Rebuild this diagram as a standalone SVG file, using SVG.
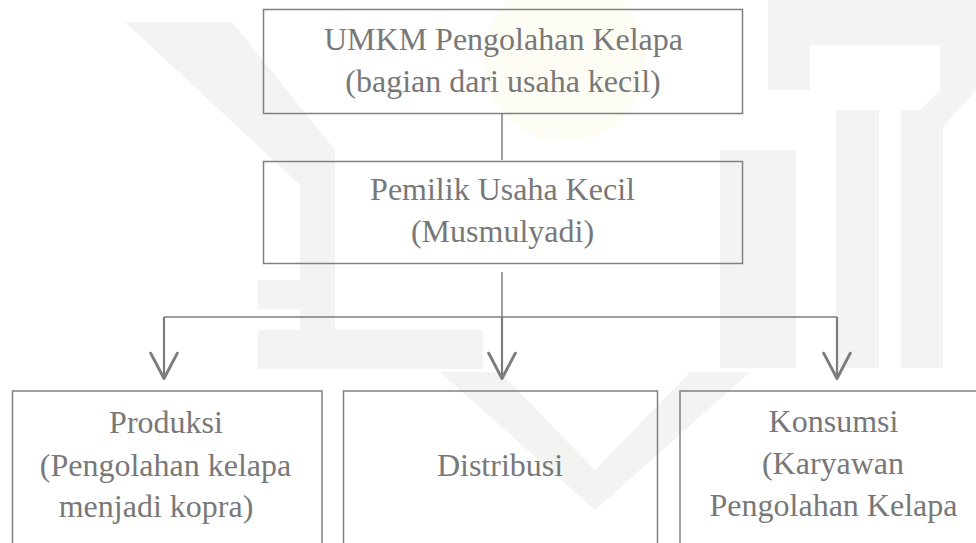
<svg xmlns="http://www.w3.org/2000/svg" width="976" height="543" viewBox="0 0 976 543">
<defs>
<style>
.box{fill:none;stroke:#808080;stroke-width:1.5}
.t{font-size:32px;fill:#787878;text-anchor:middle}
.ln{fill:none;stroke:#7c7c7c;stroke-width:1.5}
.ar{fill:none;stroke:#7c7c7c;stroke-width:2.2}
</style>
<marker id="arr" markerUnits="userSpaceOnUse" orient="auto" refX="0" refY="0" markerWidth="40" markerHeight="40" viewBox="-25 -15 30 30" overflow="visible">
<path d="M-19,-10 L0,0 L-19,10" fill="none" stroke="#7c7c7c" stroke-width="2.2" stroke-linejoin="round" stroke-linecap="round"/>
</marker>
</defs>
<rect width="976" height="543" fill="#ffffff"/>
<g id="watermark">
<circle cx="565" cy="60" r="82" fill="#fefdf5"/>
<g fill="#f3f3f2">
<polygon points="125,22 232,22 335,150 335,330 300,330 300,185"/>
<rect x="258" y="280" width="75" height="29"/>
<rect x="258" y="330" width="225" height="39"/>
<polygon points="440,372 500,372 595,470 690,372 750,372 595,510"/>
<rect x="720" y="150" width="76" height="218"/>
<rect x="836" y="110" width="43" height="258"/>
<rect x="901" y="110" width="42" height="258"/>
<path d="M768,0 H976 V90 L940,130 H900 L940,90 V45 H810 V90 H768 Z"/>
</g>
</g>
<g id="connectors">
<line class="ln" x1="502" y1="113.5" x2="502" y2="160"/>
<line class="ln" x1="502" y1="272" x2="502" y2="317"/>
<line class="ln" x1="164" y1="317" x2="837" y2="317"/>
<line class="ar" x1="164" y1="317" x2="164" y2="378.5" marker-end="url(#arr)"/>
<line class="ar" x1="502" y1="317" x2="502" y2="378.5" marker-end="url(#arr)"/>
<line class="ar" x1="837" y1="317" x2="837" y2="378.5" marker-end="url(#arr)"/>
</g>
<g id="nodes" font-family="Liberation Serif, Times New Roman, DejaVu Serif, serif">
<g id="node-umkm">
<rect class="box" x="263.5" y="9.5" width="479" height="104"/>
<text class="t" x="503.5" y="50">UMKM Pengolahan Kelapa</text>
<text class="t" x="503" y="91.5">(bagian dari usaha kecil)</text>
</g>
<g id="node-pemilik">
<rect class="box" x="263.5" y="161.5" width="479" height="102"/>
<text class="t" x="502.5" y="200">Pemilik Usaha Kecil</text>
<text class="t" x="502.5" y="242">(Musmulyadi)</text>
</g>
<g id="node-produksi">
<rect class="box" x="12.5" y="391" width="309.5" height="170"/>
<text class="t" x="166" y="432.5">Produksi</text>
<text class="t" x="165.5" y="475.5">(Pengolahan kelapa</text>
<text class="t" x="156" y="516.5">menjadi kopra)</text>
</g>
<g id="node-distribusi">
<rect class="box" x="343.5" y="391" width="314" height="170"/>
<text class="t" x="500" y="476">Distribusi</text>
</g>
<g id="node-konsumsi">
<rect class="box" x="680" y="391" width="310" height="170"/>
<text class="t" x="833.5" y="432">Konsumsi</text>
<text class="t" x="833" y="474">(Karyawan</text>
<text class="t" x="833.5" y="515.5">Pengolahan Kelapa</text>
</g>
</g>
</svg>
